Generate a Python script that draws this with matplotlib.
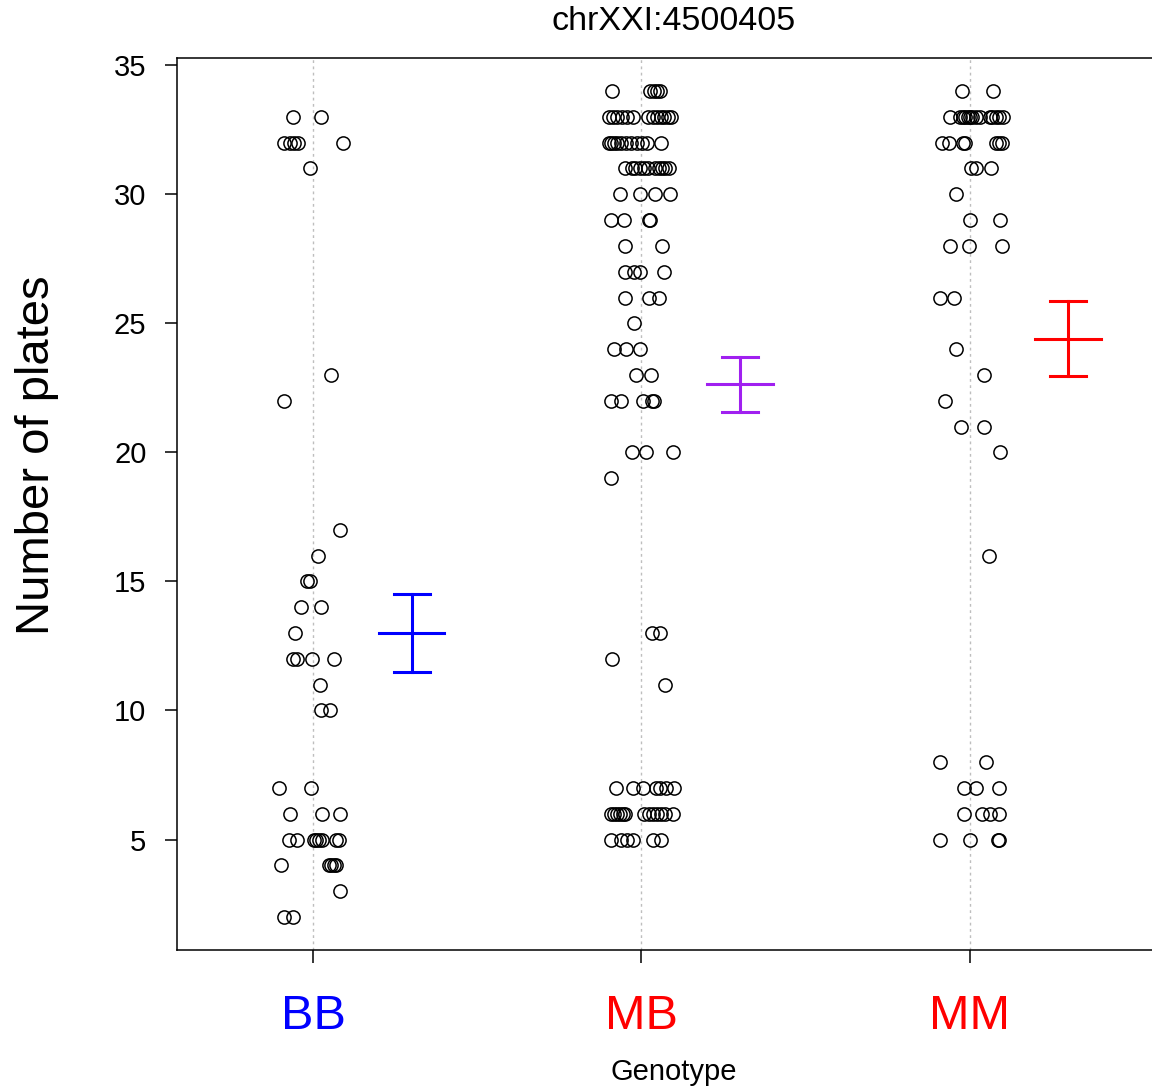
import matplotlib
matplotlib.use("Agg")
import matplotlib.pyplot as plt
import numpy as np

plt.rcParams['font.family'] = ['Liberation Sans', 'DejaVu Sans']

# genotype groups and colours
genotypes = ["BB", "MB", "MM"]
label_colors = ["blue", "red", "red"]
bar_colors = ["blue", "#A020F0", "red"]

# mean +/- SE
means = [13.02, 22.63, 24.40]
ses = [1.51, 1.05, 1.45]

# phenotype values with their horizontal jitter (x units), one line per value
bb_plates = [33, 33,
             32, 32, 32, 32, 32,
             31, 23, 22, 17, 16,
             15, 15,
             14, 14,
             13,
             12, 12, 12, 12,
             11,
             10, 10,
             7, 7,
             6, 6, 6,
             5, 5, 5, 5, 5, 5, 5, 5,
             4, 4, 4, 4, 4,
             3,
             2, 2]
bb_jitter = [-0.061, 0.024,
             -0.088, -0.070, -0.058, -0.046, 0.091,
             -0.011, 0.055, -0.088, 0.082, 0.014,
             -0.019, -0.009,
             -0.037, 0.024,
             -0.055,
             -0.060, -0.048, -0.004, 0.062,
             0.021,
             0.023, 0.052,
             -0.103, -0.007,
             -0.072, 0.027, 0.082,
             -0.075, -0.050, 0.001, 0.009, 0.017, 0.027, 0.070, 0.080,
             -0.098, 0.047, 0.055, 0.062, 0.070,
             0.082,
             -0.088, -0.060]

mb_plates = [34] * 5 + [33] * 13 + [32] * 11 + [31] * 11 + [30] * 4 \
    + [29] * 4 + [28] * 2 + [27] * 4 + [26] * 3 + [25] + [24] * 3 \
    + [23] * 2 + [22] * 5 + [20] * 3 + [19] + [13] * 2 + [12] + [11] \
    + [7] * 7 + [6] * 13 + [5] * 6
mb_jitter = [-0.089, 0.027, 0.038, 0.048, 0.056,
             -0.098, -0.085, -0.073, -0.058, -0.043, -0.024, 0.021, 0.034,
             0.049, 0.061, 0.070, 0.082, 0.091,
             -0.100, -0.092, -0.084, -0.074, -0.062, -0.046, -0.031, -0.013,
             0.002, 0.017, 0.060,
             -0.049, -0.028, -0.018, -0.003, 0.009, 0.019, 0.043, 0.053,
             0.063, 0.073, 0.083,
             -0.066, -0.005, 0.043, 0.088,
             -0.092, -0.052, 0.022, 0.027,
             -0.049, 0.063,
             -0.049, -0.023, -0.005, 0.068,
             -0.051, 0.024, 0.055,
             -0.023,
             -0.082, -0.046, -0.003,
             -0.016, 0.030,
             -0.092, -0.062, 0.005, 0.033, 0.040,
             -0.028, 0.014, 0.097,
             -0.091,
             0.033, 0.056,
             -0.088,
             0.073,
             -0.076, -0.024, 0.006, 0.046, 0.058, 0.076, 0.098,
             -0.091, -0.082, -0.073, -0.064, -0.055, -0.049, 0.009, 0.024,
             0.037, 0.049, 0.061, 0.073, 0.095,
             -0.091, -0.061, -0.043, -0.024, 0.037, 0.061]

mm_plates = [34] * 2 + [33] * 14 + [32] * 7 + [31] * 3 + [30] + [29] * 2 \
    + [28] * 3 + [26] * 2 + [24] + [23] + [22] + [21] * 2 + [20] + [16] \
    + [8] * 2 + [7] * 3 + [6] * 4 + [5] * 4
mm_jitter = [-0.024, 0.073,
             -0.061, -0.030, -0.021, -0.014, -0.006, 0.002, 0.009, 0.020,
             0.032, 0.061, 0.070, 0.081, 0.091, 0.101,
             -0.085, -0.064, -0.021, -0.014, 0.082, 0.091, 0.098,
             0.006, 0.021, 0.064,
             -0.040,
             0.000, 0.093,
             -0.058, -0.003, 0.098,
             -0.091, -0.047,
             -0.040,
             0.044,
             -0.075,
             -0.027, 0.043,
             0.093,
             0.059,
             -0.090, 0.050,
             -0.018, 0.020, 0.090,
             -0.018, 0.037, 0.063, 0.091,
             -0.090, 0.000, 0.088, 0.091]

plates = [bb_plates, mb_plates, mm_plates]
jitter = [bb_jitter, mb_jitter, mm_jitter]

fig = plt.figure(figsize=(11.52, 10.88), dpi=100)
ax = fig.add_axes([177 / 1152, 138 / 1088, 995 / 1152, 892 / 1088])

positions = np.arange(1, len(genotypes) + 1)

# dotted guide lines at each genotype
for xpos in positions:
    ax.axvline(xpos, color='#BEBEBE', linestyle=(0, (2, 2.5)), linewidth=1.0,
               zorder=1)

# jittered raw points
for xpos, ys, jit in zip(positions, plates, jitter):
    ax.plot(xpos + np.array(jit), ys, linestyle='', marker='o',
            markersize=9.5, markerfacecolor='none', markeredgecolor='black',
            markeredgewidth=1.1, zorder=3)

# mean +/- SE bars offset to the right
for xpos, m, se, col in zip(positions, means, ses, bar_colors):
    xb = xpos + 0.3
    ax.plot([xb, xb], [m - se, m + se], color=col, linewidth=2.2)
    ax.plot([xb - 0.1, xb + 0.1], [m, m], color=col, linewidth=2.2)
    for yc in (m - se, m + se):
        ax.plot([xb - 0.055, xb + 0.055], [yc, yc], color=col, linewidth=2.2)

ax.set_xlim(0.585, 3.617)
ax.set_ylim(0.72, 35.28)

ax.set_yticks([5, 10, 15, 20, 25, 30, 35])
ax.tick_params(axis='y', labelsize=21, length=9, width=1.1, pad=13)
ax.set_xticks(positions)
ax.set_xticklabels(genotypes, fontsize=35)
for lab, col in zip(ax.get_xticklabels(), label_colors):
    lab.set_color(col)
ax.tick_params(axis='x', length=9, width=1.1, pad=23)

for side in ['left', 'top', 'bottom']:
    ax.spines[side].set_linewidth(1.1)
ax.spines['right'].set_visible(False)

fig.text(674 / 1152, 1 - 22 / 1088, "chrXXI:4500405", fontsize=24.5,
         ha='center', va='center')
fig.text(674 / 1152, 1 - 1072 / 1088, "Genotype", fontsize=21,
         ha='center', va='center')
fig.text(37 / 1152, 1 - 455 / 1088, "Number of plates", fontsize=34,
         rotation=90, ha='center', va='center')

fig.savefig("out.png", dpi=100)
